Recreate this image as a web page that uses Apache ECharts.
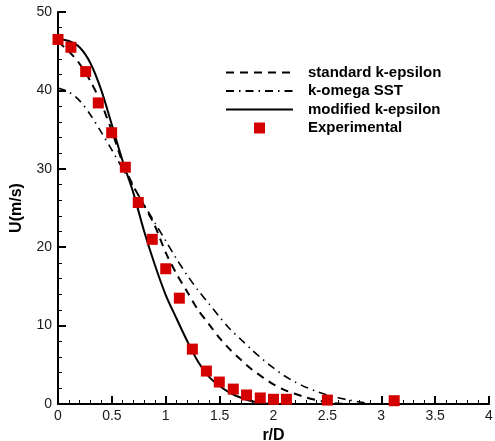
<!DOCTYPE html>
<html>
<head>
<meta charset="utf-8">
<script src="https://cdn.jsdelivr.net/npm/echarts@6/dist/echarts.min.js"></script>
<style>html,body{margin:0;padding:0;background:#fff;}#c{width:495px;height:441px;}</style>
</head>
<body>
<div id="c"></div>
<script>
// r/D sample positions for model curves
var curveX = [0,0.1,0.2,0.3,0.4,0.5,0.6,0.7,0.8,0.9,1.0,1.1,1.2,1.3,1.4,1.5,1.6,1.7,1.8,1.9,2.0,2.1,2.2,2.3,2.4,2.5,2.6,2.7,2.8,2.9,3.0,4.0];
var stdKEps = [46.2,45.0,43.4,41.2,38.4,34.8,30.8,27.8,25.3,22.7,19.3,16.6,14.3,12.0,10.2,8.4,6.9,5.6,4.4,3.4,2.5,1.8,1.3,0.85,0.5,0.2,0.05,0,0,0,0,0];
var kOmegaSST = [40.3,39.8,38.7,36.9,34.7,32.4,30.0,27.7,25.4,23.1,20.8,18.5,16.4,14.5,12.8,11.1,9.5,8.2,6.9,5.7,4.6,3.6,2.8,2.15,1.6,1.15,0.8,0.5,0.25,0.08,0,0];
var modKEps = [46.6,46.3,45.5,43.5,40.1,35.6,31.0,26.9,22.0,17.7,13.9,10.9,8.0,5.4,3.5,2.3,1.4,0.8,0.35,0.1,0,0,0,0,0,0,0,0,0,0,0,0];
// experimental data
var expX = [0,0.12,0.257,0.374,0.498,0.625,0.745,0.875,1.0,1.126,1.247,1.377,1.497,1.627,1.75,1.877,2.0,2.12,2.5,3.12];
var expU = [46.5,45.5,42.4,38.4,34.6,30.2,25.7,21.0,17.25,13.5,7.0,4.2,2.8,1.9,1.15,0.77,0.6,0.6,0.5,0.42];
var xTicks = [0,0.5,1,1.5,2,2.5,3,3.5,4];
var yTicks = [0,10,20,30,40,50];
var seriesNames = ['standard k-epsilon','k-omega SST','modified k-epsilon','Experimental'];

function pairs(xs, ys){ return xs.map(function(x,i){ return [x, ys[i]]; }); }

var chart = echarts.init(document.getElementById('c'), null, {renderer:'canvas'});
var FONT = 'Liberation Sans, Arial, sans-serif';
var axisCommon = {
  axisLine:{show:true, onZero:false, lineStyle:{color:'#000', width:2}},
  axisTick:{show:true, inside:true, length:8, lineStyle:{color:'#000', width:2}},
  minorTick:{show:true, splitNumber:5, length:4, lineStyle:{color:'#000', width:1}},
  splitLine:{show:false},
  axisLabel:{color:'#1a1a1a', fontSize:14, fontFamily:FONT},
  nameTextStyle:{color:'#000', fontSize:16, fontWeight:'bold', fontFamily:FONT}
};
var hiddenSym = {opacity:0};
chart.setOption({
  animation:false,
  backgroundColor:'#fff',
  grid:{left:58, right:6, top:12, bottom:37, containLabel:false, outerBoundsMode:'none'},
  legend:{
    orient:'vertical', left:225, top:65, padding:0,
    itemWidth:67, itemHeight:11, itemGap:3.5,
    textStyle:{color:'#000', fontSize:15, fontWeight:'bold', fontFamily:FONT, padding:[0,0,0,10]},
    data:[
      {name:seriesNames[0], itemStyle:hiddenSym},
      {name:seriesNames[1], itemStyle:hiddenSym},
      {name:seriesNames[2], itemStyle:hiddenSym},
      {name:seriesNames[3], icon:'path://M0,0L10,0L10,10L0,10Z', itemStyle:{color:'#d40000', opacity:1}}
    ]
  },
  xAxis:Object.assign({}, axisCommon, {
    type:'value', min:xTicks[0], max:xTicks[xTicks.length-1], interval:0.5,
    name:'r/D', nameLocation:'middle', nameGap:22,
    axisLabel:Object.assign({}, axisCommon.axisLabel, {margin:5})
  }),
  yAxis:Object.assign({}, axisCommon, {
    type:'value', min:yTicks[0], max:yTicks[yTicks.length-1], interval:10,
    name:'U(m/s)', nameLocation:'middle', nameGap:33, nameRotate:90,
    axisLabel:Object.assign({}, axisCommon.axisLabel, {margin:6})
  }),
  series:[
    {name:seriesNames[0], type:'line', data:pairs(curveX, stdKEps), showSymbol:false, symbol:'none', smooth:0.3,
     lineStyle:{color:'#000', width:2, type:[8,6]}, itemStyle:{color:'#000'}},
    {name:seriesNames[1], type:'line', data:pairs(curveX, kOmegaSST), showSymbol:false, symbol:'none', smooth:0.3,
     lineStyle:{color:'#000', width:1.6, type:[8,5,1.5,5]}, itemStyle:{color:'#000'}},
    {name:seriesNames[2], type:'line', data:pairs(curveX, modKEps), showSymbol:false, symbol:'none', smooth:0.3,
     lineStyle:{color:'#000', width:2, type:'solid'}, itemStyle:{color:'#000'}},
    {name:seriesNames[3], type:'scatter', data:pairs(expX, expU), symbol:'rect', symbolSize:11, clip:false,
     itemStyle:{color:'#d40000', opacity:1}, z:5}
  ]
});
</script>
</body>
</html>
